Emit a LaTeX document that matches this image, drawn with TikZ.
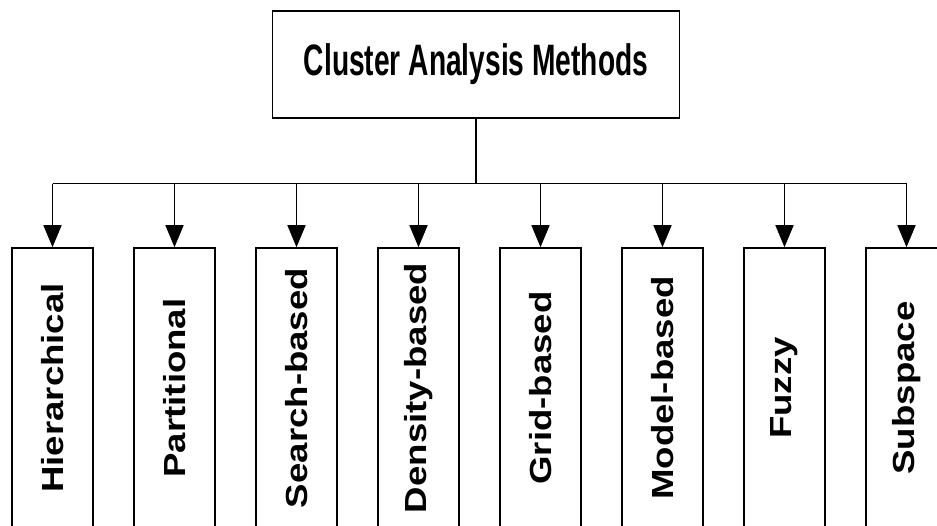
\documentclass[tikz,border=0pt]{standalone}
\usepackage{fontspec}
\setmainfont{Liberation Sans}
\usepackage{tikz}
\usetikzlibrary{positioning}
\usetikzlibrary{arrows.meta}

\begin{document}
\begin{tikzpicture}[
                x=1pt, y=1pt,
                node distance=39.5pt,
                line width=1.5pt,
                rootbox/.style={
                        draw,
                        minimum width=407pt,
                        minimum height=107pt,
                        font=\fontsize{44}{52}\selectfont\bfseries
                    },
                methodbox/.style={
                        draw,
                        minimum width=81pt,
                        minimum height=280pt,
                        inner sep=0pt,
                        font=\fontsize{30.5}{36}\selectfont\bfseries
                    },
                downarrow/.style={
                        -{Triangle[width=18pt,length=22pt]}
                    }
            ]
            \useasboundingbox (0,0) rectangle (937,526);

            % Root node
            \node[rootbox] (root) at (476,461.5) {\scalebox{0.64}[1]{Cluster Analysis Methods}};

            % Method boxes with vertical text
            \node[methodbox] (m1) at (52.5,138) {\rotatebox{90}{\scalebox{1.2}[1]{Hierarchical}}};
            \node[methodbox, right=of m1] (m2) {\rotatebox{90}{\scalebox{1.2}[1]{Partitional}}};
            \node[methodbox, right=of m2] (m3) {\rotatebox{90}{\scalebox{1.2}[1]{Search-based}}};
            \node[methodbox, right=of m3] (m4) {\rotatebox{90}{\scalebox{1.2}[1]{Density-based}}};
            \node[methodbox, right=of m4] (m5) {\rotatebox{90}{\scalebox{1.2}[1]{Grid-based}}};
            \node[methodbox, right=of m5] (m6) {\rotatebox{90}{\scalebox{1.2}[1]{Model-based}}};
            \node[methodbox, right=of m6] (m7) {\rotatebox{90}{\scalebox{1.2}[1]{Fuzzy}}};
            \node[methodbox, right=of m7] (m8) {\rotatebox{90}{\scalebox{1.2}[1]{Subspace}}};

            % Trunk and bus line
            \draw (root.south) -- ++(0,-65) coordinate (bus);
            \draw (m1.north |- bus) -- (m8.north |- bus);

            % Arrows down to the boxes
            \draw[downarrow] (m1.north |- bus) -- (m1.north);
            \draw[downarrow] (m2.north |- bus) -- (m2.north);
            \draw[downarrow] (m3.north |- bus) -- (m3.north);
            \draw[downarrow] (m4.north |- bus) -- (m4.north);
            \draw[downarrow] (m5.north |- bus) -- (m5.north);
            \draw[downarrow] (m6.north |- bus) -- (m6.north);
            \draw[downarrow] (m7.north |- bus) -- (m7.north);
            \draw[downarrow] (m8.north |- bus) -- (m8.north);

        \end{tikzpicture}
\end{document}
